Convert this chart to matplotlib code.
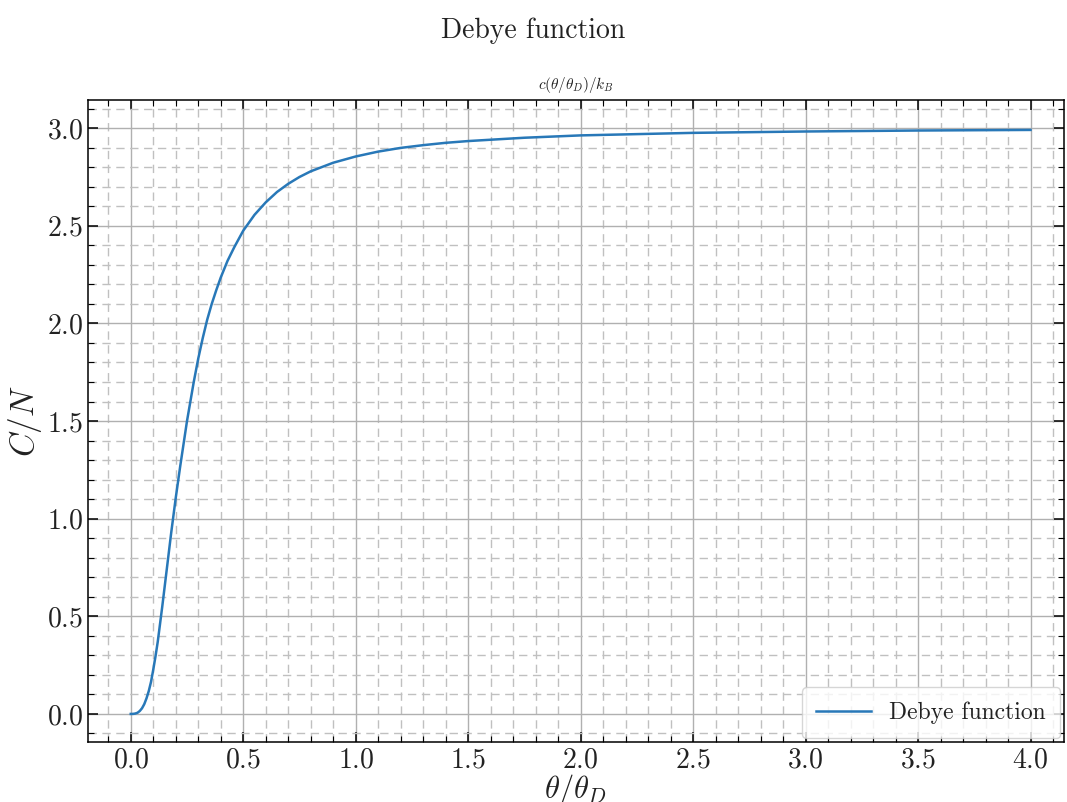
import numpy as np
import matplotlib
matplotlib.use("Agg")
import matplotlib.pyplot as plt
from matplotlib.ticker import MultipleLocator

# values (theta/theta_D, C/N)
t_ratio = [0.0, 0.01, 0.02, 0.03, 0.04, 0.05, 0.06, 0.07, 0.08, 0.09,
           0.10, 0.11, 0.12, 0.13, 0.14, 0.16, 0.18, 0.20, 0.22, 0.25,
           0.28, 0.30, 0.32, 0.34, 0.36, 0.38, 0.40, 0.43, 0.46, 0.50,
           0.55, 0.60, 0.65, 0.70, 0.75, 0.80, 0.90, 1.00, 1.10, 1.20,
           1.30, 1.40, 1.50, 1.75, 2.00, 2.50, 3.00, 3.50, 4.00]
heat_cap = [0.0, 0.0002, 0.002, 0.006, 0.015, 0.029, 0.050, 0.080, 0.117, 0.164,
            0.227, 0.295, 0.37, 0.46, 0.55, 0.74, 0.93, 1.107, 1.27, 1.50,
            1.70, 1.82, 1.925, 2.02, 2.10, 2.17, 2.235, 2.32, 2.39, 2.475,
            2.556, 2.62, 2.673, 2.715, 2.75, 2.779, 2.823, 2.855, 2.88, 2.899,
            2.913, 2.925, 2.934, 2.951, 2.963, 2.976, 2.983, 2.988, 2.991]

plt.rcParams["font.family"] = "serif"
plt.rcParams["font.serif"] = ["cmr10"]
plt.rcParams["mathtext.fontset"] = "cm"
plt.rcParams["axes.formatter.use_mathtext"] = True

fig = plt.figure(figsize=(10.67, 8.02), dpi=100)
ax = fig.add_axes([0.0825, 0.075, 0.9145, 0.8])

ax.plot(t_ratio, heat_cap, color="#2878b8", lw=1.8, label="Debye function")

ax.set_xlim(-0.19, 4.148)
ax.set_ylim(-0.143, 3.143)
ax.xaxis.set_major_locator(MultipleLocator(0.5))
ax.xaxis.set_minor_locator(MultipleLocator(0.1))
ax.yaxis.set_major_locator(MultipleLocator(0.5))
ax.yaxis.set_minor_locator(MultipleLocator(0.1))

ax.tick_params(which="both", direction="in", top=True, right=True,
               labelsize=20, labelcolor="#222222")
ax.tick_params(which="major", length=7, width=1.1)
ax.tick_params(which="minor", length=4, width=0.8)
for s in ax.spines.values():
    s.set_linewidth(1.1)

ax.grid(which="major", color="#b0b0b0", lw=1.0, ls="-")
ax.grid(which="minor", color="#c0c0c0", lw=1.0, ls=(0, (6, 4)))
ax.set_axisbelow(True)

ax.set_xlabel(r"$\theta/\theta_D$", fontsize=22, labelpad=-1, color="#222222")
ax.set_ylabel(r"$C/N$", fontsize=24, labelpad=2, color="#222222")
ax.set_title(r"$c(\theta/\theta_D)/k_B$", fontsize=11, pad=8, color="#222222")
fig.suptitle("Debye function", fontsize=20, y=0.978, color="#222222")

leg = ax.legend(loc="lower right", fontsize=17, fancybox=True, framealpha=0.8,
                borderaxespad=0.15, borderpad=0.6, handlelength=2.3)
for txt in leg.get_texts():
    txt.set_color("#222222")

fig.savefig("out.png", dpi=100)
